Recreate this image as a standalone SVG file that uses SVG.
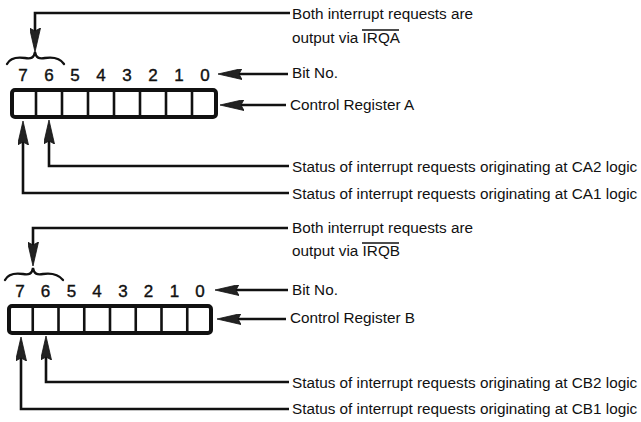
<svg xmlns="http://www.w3.org/2000/svg" width="641" height="422" viewBox="0 0 641 422">
<defs>
<style>
.ln{fill:none;stroke:#111;stroke-width:2.6;stroke-linejoin:miter}
.brace{fill:none;stroke:#111;stroke-width:2.3;stroke-linecap:round}
.box{fill:#fff;stroke:#111;stroke-width:4}
.div{stroke:#111;stroke-width:2.6}
.lbl{font-family:"Liberation Sans",Arial,sans-serif;font-size:15.3px;fill:#111}
.dig{font-family:"Liberation Sans",Arial,sans-serif;font-size:17px;fill:#111;stroke:#111;stroke-width:0.4;text-anchor:middle}
.ov{stroke:#111;stroke-width:1.3}
</style>
<marker id="ah" viewBox="0 0 24 11" refX="13" refY="5.5" markerWidth="24" markerHeight="11" markerUnits="userSpaceOnUse" orient="auto">
<path d="M0,0 L24,5.5 L0,11 L3,5.5 z" fill="#222" stroke="#111" stroke-width="0.8"/>
</marker>
</defs>
<rect width="641" height="422" fill="#fff"/>

<g id="regA">
<rect class="box" x="12" y="90" width="204" height="27" rx="3"/>
<line class="div" x1="36" y1="90" x2="36" y2="117"/>
<line class="div" x1="62" y1="90" x2="62" y2="117"/>
<line class="div" x1="88" y1="90" x2="88" y2="117"/>
<line class="div" x1="114" y1="90" x2="114" y2="117"/>
<line class="div" x1="140" y1="90" x2="140" y2="117"/>
<line class="div" x1="166" y1="90" x2="166" y2="117"/>
<line class="div" x1="192" y1="90" x2="192" y2="117"/>
</g>
<g id="bitsA">
<text class="dig" x="23" y="81">7</text>
<text class="dig" x="49" y="81">6</text>
<text class="dig" x="75" y="81">5</text>
<text class="dig" x="101" y="81">4</text>
<text class="dig" x="127" y="81">3</text>
<text class="dig" x="153" y="81">2</text>
<text class="dig" x="179" y="81">1</text>
<text class="dig" x="205" y="81">0</text>
<path class="brace" d="M7,64 C10,58 18,57 25,58 C31,59 34,58 35,52 C36,58 39,59 45,58 C52,57 60,58 64,64"/>
</g>
<g id="labelsA">
<text class="lbl" x="292" y="19">Both interrupt requests are</text>
<text class="lbl" x="292" y="43">output via IRQA</text>
<line class="ov" x1="362" y1="30" x2="399" y2="30"/>
<text class="lbl" x="292" y="78">Bit No.</text>
<text class="lbl" x="290" y="110">Control Register A</text>
<text class="lbl" x="292" y="172">Status of interrupt requests originating at CA2 logic</text>
<text class="lbl" x="292" y="199">Status of interrupt requests originating at CA1 logic</text>
</g>

<g id="regB">
<rect class="box" x="9" y="306" width="202" height="27" rx="3"/>
<line class="div" x1="32.75" y1="306" x2="32.75" y2="333"/>
<line class="div" x1="58.5" y1="306" x2="58.5" y2="333"/>
<line class="div" x1="84.25" y1="306" x2="84.25" y2="333"/>
<line class="div" x1="110" y1="306" x2="110" y2="333"/>
<line class="div" x1="135.75" y1="306" x2="135.75" y2="333"/>
<line class="div" x1="161.5" y1="306" x2="161.5" y2="333"/>
<line class="div" x1="187.25" y1="306" x2="187.25" y2="333"/>
</g>
<g id="bitsB">
<text class="dig" x="20" y="297">7</text>
<text class="dig" x="45.6" y="297">6</text>
<text class="dig" x="71.4" y="297">5</text>
<text class="dig" x="97.1" y="297">4</text>
<text class="dig" x="122.9" y="297">3</text>
<text class="dig" x="148.6" y="297">2</text>
<text class="dig" x="174.4" y="297">1</text>
<text class="dig" x="200" y="297">0</text>
<path class="brace" d="M5,280 C8,274 16,273 23,274 C29,275 32,274 33,268 C34,274 37,275 43,274 C50,273 58,274 63,280"/>
</g>
<g id="labelsB">
<text class="lbl" x="292" y="233">Both interrupt requests are</text>
<text class="lbl" x="292" y="256">output via IRQB</text>
<line class="ov" x1="362" y1="243" x2="399" y2="243"/>
<text class="lbl" x="292" y="295">Bit No.</text>
<text class="lbl" x="290" y="323">Control Register B</text>
<text class="lbl" x="292" y="388">Status of interrupt requests originating at CB2 logic</text>
<text class="lbl" x="292" y="414">Status of interrupt requests originating at CB1 logic</text>
</g>

<g id="connectors">
<polyline class="ln" points="290,13 35,13 35,41" marker-end="url(#ah)"/>
<polyline class="ln" points="288,74 229,74" marker-end="url(#ah)"/>
<polyline class="ln" points="286,105 231,105" marker-end="url(#ah)"/>
<polyline class="ln" points="289,166 49,166 49,131" marker-end="url(#ah)"/>
<polyline class="ln" points="289,193 23,193 23,132" marker-end="url(#ah)"/>

<polyline class="ln" points="288,228 33,228 33,255" marker-end="url(#ah)"/>
<polyline class="ln" points="288,290 226,290" marker-end="url(#ah)"/>
<polyline class="ln" points="286,319 228,319" marker-end="url(#ah)"/>
<polyline class="ln" points="289,382 46,382 46,347" marker-end="url(#ah)"/>
<polyline class="ln" points="289,409 21,409 21,348" marker-end="url(#ah)"/>
</g>
</svg>
